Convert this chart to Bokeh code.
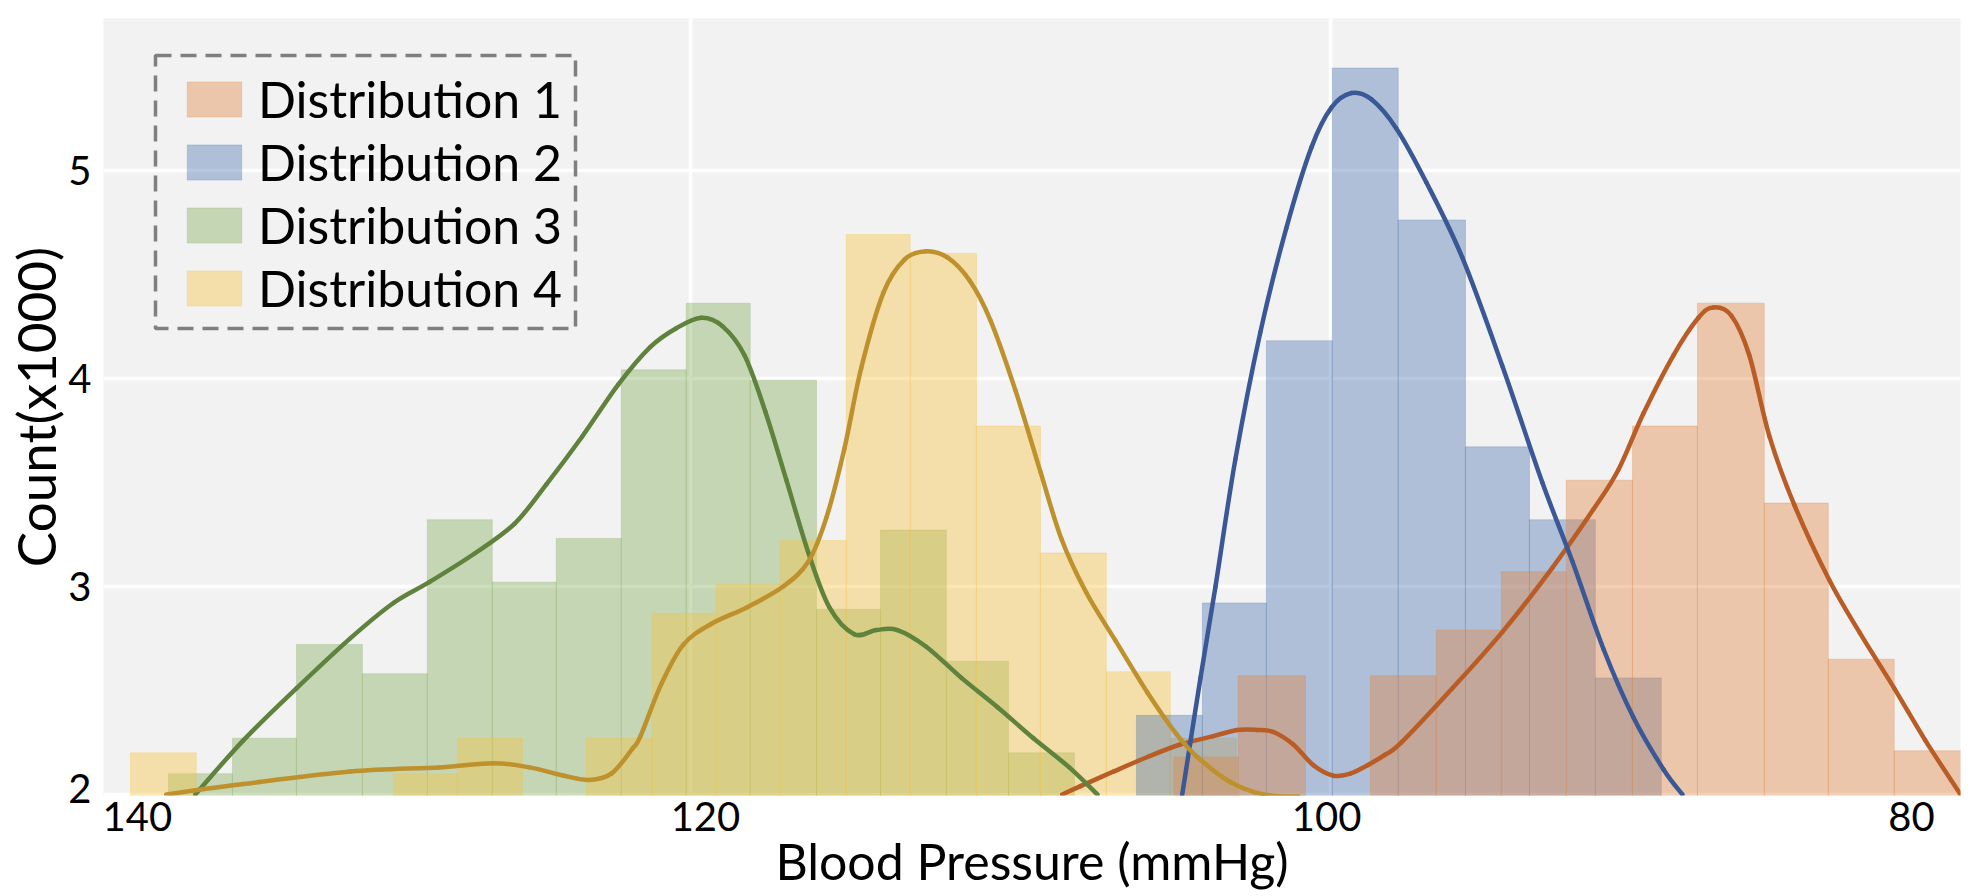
from bokeh.plotting import figure
from bokeh.models import FixedTicker, Legend, LegendItem, Range1d, BoxAnnotation
from bokeh.embed import file_html
from bokeh.resources import INLINE

# ---------------- data ----------------
# Histogram bin edges (mmHg) and bar heights (count x1000)
d1_edges = [104.88, 102.88, 100.78, 98.75, 96.69, 94.66, 92.63, 90.56, 88.53, 86.44, 84.44, 82.38, 80.31]
d1_counts = [2.18, 2.57, 0.0, 2.57, 2.79, 3.07, 3.51, 3.77, 4.36, 3.40, 2.65, 2.21]

d2_edges = [106.06, 104.0, 102.0, 99.94, 97.88, 95.78, 93.78, 91.72, 89.66]
d2_counts = [2.38, 2.92, 4.18, 5.49, 4.76, 3.67, 3.32, 2.56]

d3_edges = [136.31, 134.31, 132.31, 130.25, 128.22, 126.19, 124.19, 122.16, 120.13, 118.13, 116.06, 114.06, 112.0, 110.06, 108.0]
d3_counts = [2.10, 2.27, 2.72, 2.58, 3.32, 3.02, 3.23, 4.04, 4.36, 3.99, 2.89, 3.27, 2.64, 2.20]

d4_edges = [137.5, 135.44, 133.38, 131.34, 129.28, 127.28, 125.25, 123.25, 121.19, 119.19, 117.19, 115.13, 113.13, 111.06, 109.06, 107.0, 105.0, 102.94]
d4_counts = [2.20, 0.0, 0.0, 0.0, 2.10, 2.27, 0.0, 2.27, 2.87, 3.01, 3.22, 4.69, 4.60, 3.77, 3.16, 2.59, 2.27]

# Density curves
k1_x = [108.38, 107.81, 106.78, 105.72, 104.69, 103.66, 102.91, 102.28, 101.78, 101.16, 100.53, 99.91, 99.38,
        98.84, 98.3, 97.78, 96.19, 94.63, 93.06, 91.78, 91.0, 90.22, 89.28, 88.5, 88.03, 87.47, 86.91, 86.28,
        85.5, 84.41, 83.47, 82.38, 81.41, 80.31]
k1_y = [2.00, 2.04, 2.11, 2.18, 2.24, 2.28, 2.31, 2.31, 2.30, 2.24, 2.14, 2.09, 2.10,
        2.14, 2.19, 2.25, 2.51, 2.78, 3.09, 3.37, 3.56, 3.83, 4.11, 4.29, 4.34, 4.30, 4.11, 3.72,
        3.39, 3.03, 2.78, 2.51, 2.26, 2.00]

k2_x = [104.63, 104.06, 103.59, 102.97, 102.19, 101.38, 100.59, 99.97, 99.34, 98.72, 97.94, 97.0, 95.88,
        94.63, 93.38, 92.44, 91.47, 90.53, 89.59, 89.0]
k2_y = [2.00, 2.56, 3.00, 3.61, 4.22, 4.72, 5.11, 5.30, 5.37, 5.34, 5.20, 4.94, 4.58,
        4.06, 3.50, 3.12, 2.70, 2.37, 2.12, 2.00]

k3_x = [135.47, 133.97, 132.31, 130.63, 129.28, 128.16, 126.72, 125.5, 124.5, 123.38, 122.25, 121.25, 120.44,
        119.66, 119.0, 118.31, 117.66, 117.0, 116.31, 115.66, 114.88, 114.19, 113.53, 112.63, 111.53, 110.41,
        109.28, 108.16, 107.28]
k3_y = [2.00, 2.26, 2.51, 2.75, 2.92, 3.02, 3.16, 3.30, 3.49, 3.72, 3.97, 4.15, 4.24,
        4.29, 4.25, 4.11, 3.84, 3.51, 3.16, 2.90, 2.77, 2.79, 2.79, 2.71, 2.56, 2.42,
        2.27, 2.13, 2.00]

k4_x = [136.38, 133.97, 130.63, 127.84, 126.16, 125.03, 123.94, 123.16, 122.47, 121.81, 121.56, 120.91, 120.22,
        119.34, 118.22, 117.09, 116.31, 115.75, 115.19, 114.66, 113.97, 113.31, 112.63, 111.97, 111.28, 110.63,
        109.84, 109.06, 108.41, 107.63, 106.72, 105.72, 104.81, 104.16, 103.13, 102.09, 101.0]
k4_y = [2.00, 2.05, 2.11, 2.13, 2.15, 2.13, 2.09, 2.07, 2.10, 2.22, 2.28, 2.53, 2.72,
        2.82, 2.90, 3.00, 3.12, 3.33, 3.66, 4.05, 4.41, 4.57, 4.61, 4.58, 4.47, 4.28,
        3.94, 3.55, 3.23, 2.97, 2.74, 2.49, 2.29, 2.18, 2.06, 2.00, 1.99]

labels = ["Distribution 1", "Distribution 2", "Distribution 3", "Distribution 4"]
x_title = "Blood Pressure (mmHg)"
y_title = "Count(x1000)"

# axis ticks (label positions)
x_tick_pos = [137.28, 119.53, 100.12, 81.84]
x_tick_txt = ["140", "120", "100", "80"]
x_grid = [120, 100]
y_tick_pos = [2.03, 3, 4, 5]
y_tick_txt = ["2", "3", "4", "5"]
y_grid = [2, 3, 4, 5]

# ---------------- styling ----------------
bar_colors = ["#e08540", "#4c72b0", "#82ac5a", "#f7c240"]
line_colors = ["#b95c26", "#3a5896", "#5f823c", "#be912d"]
FONT = "Lato"

p = figure(width=1980, height=896, output_backend="svg", toolbar_location=None,
           x_range=Range1d(138.34, 80.31), y_range=Range1d(1.995, 5.728),
           min_border_left=103, min_border_right=20, min_border_top=18, min_border_bottom=101,
           background_fill_color="#f2f2f2", border_fill_color="white", outline_line_color=None)

def bars(edges, counts, i):
    return p.quad(left=edges[:-1], right=edges[1:], top=counts, bottom=0,
                  fill_color=bar_colors[i], fill_alpha=0.4,
                  line_color=bar_colors[i], line_alpha=0.25, line_width=1)

r3 = bars(d3_edges, d3_counts, 2)
r4 = bars(d4_edges, d4_counts, 3)
r2 = bars(d2_edges, d2_counts, 1)
r1 = bars(d1_edges, d1_counts, 0)

def smooth_curve(xs, ys, color):
    # cubic segments drawn through the read points
    n = len(xs)
    X0, Y0, X1, Y1, CX0, CY0, CX1, CY1 = [], [], [], [], [], [], [], []
    for i in range(n - 1):
        xm, ym = (xs[i - 1], ys[i - 1]) if i > 0 else (xs[i], ys[i])
        xp, yp = (xs[i + 2], ys[i + 2]) if i + 2 < n else (xs[i + 1], ys[i + 1])
        X0.append(xs[i]); Y0.append(ys[i]); X1.append(xs[i + 1]); Y1.append(ys[i + 1])
        CX0.append(xs[i] + (xs[i + 1] - xm) / 6.0); CY0.append(ys[i] + (ys[i + 1] - ym) / 6.0)
        CX1.append(xs[i + 1] - (xp - xs[i]) / 6.0); CY1.append(ys[i + 1] - (yp - ys[i]) / 6.0)
    p.bezier(x0=X0, y0=Y0, x1=X1, y1=Y1, cx0=CX0, cy0=CY0, cx1=CX1, cy1=CY1,
             line_color=color, line_width=4.5, line_cap="round")

smooth_curve(k1_x, k1_y, line_colors[0])
smooth_curve(k2_x, k2_y, line_colors[1])
smooth_curve(k3_x, k3_y, line_colors[2])
smooth_curve(k4_x, k4_y, line_colors[3])

# grid
p.xgrid[0].ticker = FixedTicker(ticks=x_grid)
p.ygrid[0].ticker = FixedTicker(ticks=y_grid)
for g in (p.xgrid[0], p.ygrid[0]):
    g.grid_line_color = "white"
    g.grid_line_width = 3.5

# axes
p.xaxis.ticker = FixedTicker(ticks=x_tick_pos)
p.xaxis.major_label_overrides = dict(zip(x_tick_pos, x_tick_txt))
p.yaxis.ticker = FixedTicker(ticks=y_tick_pos)
p.yaxis.major_label_overrides = dict(zip(y_tick_pos, y_tick_txt))
p.xaxis.axis_label = x_title
p.yaxis.axis_label = y_title
for ax in (p.xaxis[0], p.yaxis[0]):
    ax.axis_line_color = None
    ax.major_tick_line_color = None
    ax.minor_tick_line_color = None
    ax.major_label_text_font = FONT
    ax.major_label_text_font_size = "40px"
    ax.major_label_text_color = "black"
    ax.axis_label_text_font = FONT
    ax.axis_label_text_font_style = "normal"
    ax.axis_label_text_color = "black"
p.xaxis[0].axis_label_text_font_size = "50px"
p.yaxis[0].axis_label_text_font_size = "53px"
p.xaxis[0].major_label_standoff = 0
p.xaxis[0].axis_label_standoff = -3
p.yaxis[0].major_label_standoff = 6
p.yaxis[0].axis_label_standoff = -2

# legend (content) and its dashed frame
legend = Legend(items=[LegendItem(label=labels[0], renderers=[r1]),
                       LegendItem(label=labels[1], renderers=[r2]),
                       LegendItem(label=labels[2], renderers=[r3]),
                       LegendItem(label=labels[3], renderers=[r4])],
                location=(77, 477))
legend.glyph_width = 68
legend.glyph_height = 44
legend.label_text_font = FONT
legend.label_text_font_size = "50px"
legend.label_text_color = "black"
legend.label_standoff = 10
legend.spacing = 3
legend.padding = 14
legend.margin = 0
legend.background_fill_alpha = 0.0
legend.border_line_color = None
p.add_layout(legend)

frame_box = BoxAnnotation(left=52, right=472, bottom=467, top=740,
                          left_units="screen", right_units="screen",
                          bottom_units="screen", top_units="screen",
                          fill_alpha=0.0, fill_color=None,
                          line_color="#7f7f7f", line_alpha=1.0, line_width=3.5, line_dash="16 9")
p.add_layout(frame_box)

open("out.html", "w").write(file_html(p, INLINE))
